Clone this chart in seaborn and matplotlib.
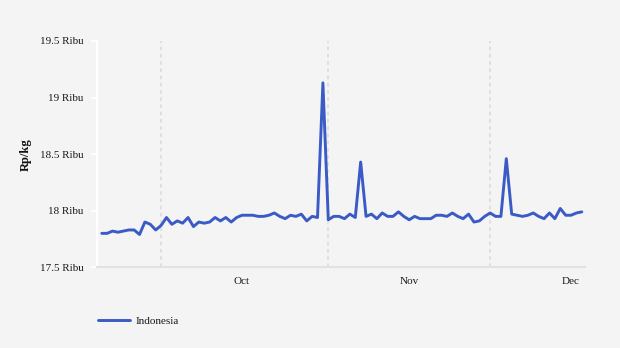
import matplotlib
matplotlib.use("Agg")
import matplotlib.pyplot as plt
import matplotlib.dates as mdates
import pandas as pd
import seaborn as sns

# Daily price series (thousand Rp per kg)
start_date = "2023-09-20"
prices = [
    17.80, 17.80, 17.82, 17.81, 17.82, 17.83, 17.83, 17.79, 17.90, 17.88,
    17.83, 17.87, 17.94, 17.88, 17.91, 17.89, 17.94, 17.86, 17.90, 17.89,
    17.90, 17.94, 17.91, 17.94, 17.90, 17.94, 17.96, 17.96, 17.96, 17.95,
    17.95, 17.96, 17.98, 17.95, 17.93, 17.96, 17.95, 17.97, 17.91, 17.95,
    17.94, 19.13, 17.92, 17.95, 17.95, 17.93, 17.97, 17.94, 18.43, 17.95,
    17.97, 17.93, 17.98, 17.95, 17.95, 17.99, 17.95, 17.92, 17.95, 17.93,
    17.93, 17.93, 17.96, 17.96, 17.95, 17.98, 17.95, 17.93, 17.97, 17.90,
    17.91, 17.95, 17.98, 17.95, 17.95, 18.46, 17.97, 17.96, 17.95, 17.96,
    17.98, 17.95, 17.93, 17.98, 17.93, 18.02, 17.96, 17.96, 17.98, 17.99,
]
series_name = "Indonesia"
y_ticks = [17.5, 18.0, 18.5, 19.0, 19.5]
y_tick_labels = ["17.5 Ribu", "18 Ribu", "18.5 Ribu", "19 Ribu", "19.5 Ribu"]
month_labels = ["Oct", "Nov", "Dec"]
y_label = "Rp/kg"

dates = pd.date_range(start_date, periods=len(prices), freq="D")
df = pd.DataFrame({"date": dates, "price": prices, "region": series_name})

bg = "#f4f4f4"
line_color = "#3a5bc6"
text_color = "#1a1a1a"
sns.set_theme(style="white")
plt.rcParams["font.family"] = ["Liberation Serif", "DejaVu Serif"]

fig = plt.figure(figsize=(6.2, 3.48), dpi=100, facecolor=bg)
ax = fig.add_axes([0.1565, 0.2319, 0.787, 0.6503])
ax.set_facecolor(bg)

sns.lineplot(data=df, x="date", y="price", hue="region",
             palette=[line_color], linewidth=2.1, ax=ax, legend=False)

ax.set_ylim(17.5, 19.5)
ax.set_xlim(dates[0] - pd.Timedelta(hours=21), dates[-1] + pd.Timedelta(hours=14))

ax.set_yticks(y_ticks)
ax.set_yticklabels(y_tick_labels)

# month boundaries as dashed grid lines, month names at mid-month
ax.xaxis.set_major_locator(mdates.MonthLocator(bymonthday=1))
ax.xaxis.set_major_formatter(plt.NullFormatter())
ax.xaxis.set_minor_locator(mdates.MonthLocator(bymonthday=16))
ax.xaxis.set_minor_formatter(plt.FixedFormatter(month_labels))
ax.tick_params(axis="x", which="major", length=4, width=1.5, color="#dddddd")
ax.tick_params(axis="x", which="minor", length=0, pad=7, labelsize=8, labelcolor=text_color)
ax.grid(axis="x", which="major", color="#dddddd", linestyle=(0, (2, 2)), linewidth=1.3)
ax.grid(axis="y", visible=False)

ax.tick_params(axis="y", length=4.5, width=1.3, color="white", pad=5, labelsize=8,
               labelcolor=text_color, left=True)

for side in ["top", "right"]:
    ax.spines[side].set_visible(False)
ax.spines["left"].set_color("white")
ax.spines["left"].set_linewidth(1.5)
ax.spines["bottom"].set_color("#e2e2e2")
ax.spines["bottom"].set_linewidth(1.5)

ax.set_xlabel("")
ax.set_ylabel(y_label, fontsize=9, fontweight="bold", color="#111111", labelpad=6)

handle = plt.Line2D([], [], color=line_color, linewidth=2.1)
fig.legend([handle], [series_name], loc="center left", bbox_to_anchor=(0.142, 0.078),
           frameon=False, fontsize=8, handlelength=2.9, handletextpad=0.45,
           labelcolor=text_color)

fig.savefig("out.png", dpi=100, facecolor=bg)
